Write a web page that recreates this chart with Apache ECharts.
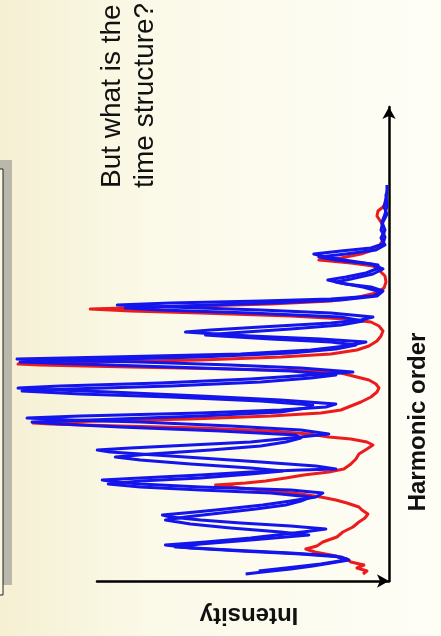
<!DOCTYPE html>
<html>
<head>
<meta charset="utf-8">
<script src="https://cdn.jsdelivr.net/npm/echarts@6/dist/echarts.min.js"></script>
<style>
html,body{margin:0;padding:0;width:441px;height:636px;overflow:hidden;}
#chart{width:441px;height:636px;}
</style>
</head>
<body>
<div id="chart"></div>
<script>
// Harmonic order (arbitrary units, along the vertical axis) and intensity (arbitrary units)
const redHarmonic = [0.7,1.0,1.3,1.6,1.9,2.2,2.6,2.9,3.2,3.5,3.9,4.4,4.9,5.4,5.9,6.3,6.7,7.1,7.4,7.8,8.1,8.4,8.7,8.9,9.1,9.3,9.6,9.8,10.0,10.3,10.6,10.9,11.2,11.7,12.2,12.7,13.2,13.6,13.9,14.2,14.4,14.7,15.0,15.3,15.5,15.7,15.8,16.0,16.2,16.5,16.8,17.1,17.5,17.9,18.4,18.9,19.3,19.7,20.1,20.5,20.8,21.0,21.2,21.4,21.6,21.7,21.9,22.1,22.4,22.7,23.1,23.5,24.0,24.5,25.0,25.5,25.9,26.2,26.5,26.8,27.0,27.2,27.4,27.7,28.0,28.4,28.8,29.3,29.9,30.5,31.1,31.5,31.8,32.1,32.3,32.7,33.1,33.6,34.3,35.1,35.9,36.5,37.0,37.4,37.9];
const redIntensity = [6.5,5.5,8,6.25,9.5,10.5,14.5,18.5,20.75,18,16.5,13,11.5,9,7.5,6,5.25,6.75,7.5,10.5,13.25,17,22,26.5,31.5,37,43.25,35.75,30.75,25.75,21.25,15,11.25,9.5,8.25,7.5,5.5,4,5.5,9.5,15,20,29.5,47,67,84.5,88.75,72,49.5,29.5,17,12,9.5,7,4.5,3,2.5,3.25,5,9,12,19.5,39.5,64.5,87,92.5,74.5,47,27,14.5,8,5,3,2,1.5,2.5,4.5,10.75,24.5,47,64.5,74.5,57,29.5,14.5,7.5,3.25,1.25,0.75,1,2.5,4,9.5,17.5,12,7,4,2.25,1.25,1.25,2,3,2.75,1.5,0.75];

const blueAHarmonic = [0.7,0.9,1.2,1.5,1.8,2.1,2.4,2.7,3.0,3.3,3.6,3.9,4.3,4.7,5.0,5.2,5.5,5.8,6.1,6.4,6.6,6.9,7.2,7.6,8.0,8.4,8.8,9.1,9.4,9.7,9.9,10.1,10.3,10.6,10.9,11.1,11.2,11.5,11.9,12.3,12.7,12.9,13.1,13.3,13.6,13.9,14.3,14.7,15.1,15.5,15.9,16.1,16.3,16.5,16.8,17.1,17.4,17.7,18.1,18.5,18.9,19.2,19.3,19.5,19.8,20.2,20.6,20.9,21.3,21.6,21.9,22.1,22.2,22.4,22.7,23.1,23.5,23.9,24.2,24.5,24.8,24.9,25.1,25.4,25.8,26.1,26.4,26.8,27.1,27.4,27.6,27.8,28.0,28.2,28.5,28.9,29.4,29.8,30.1,30.4,30.8,31.3,31.6,32.0,32.4,32.7,33.0,33.3,33.7,34.4,35.1,35.9,36.7,37.4,38.3,39.1,39.6];
const blueAIntensity = [35.75,31.5,24.5,19,14.5,10,12,22,37,49.5,55.75,45.75,34.5,25.75,19.5,15.75,24.5,37,47,54.5,56.5,48.25,40.75,31.5,24.5,18.25,16.5,24.5,47,62,68.25,71.5,62,47,34.5,22,13.25,18.25,32,47,62,69.5,72.75,64.5,49.5,34.5,24.5,15,22,39.5,62,79.5,90.25,77,47,27,15.75,13.25,27,47,69.5,89.5,92.5,82,57,34.5,19.5,9,22,39.5,62,87,92.75,69.5,37,19.5,10.75,5.75,17,34.5,47,50.75,44.5,32,14.5,7,4,14.5,32,54.5,67.75,54.5,32,14.5,4,2,6.5,12,15.25,10.75,5.75,2.5,2.75,9.5,15.75,18.75,12,4.5,1.5,1,2,1.5,0.5,1.25,0.75,0.5,0.5];

const blueBHarmonic = [1.0,1.3,1.7,2.1,2.5,2.8,3.1,3.4,3.7,4.1,4.4,4.6,4.9,5.3,5.7,6.1,6.4,6.8,7.2,7.6,8.0,8.4,8.8,9.1,9.4,9.7,10.0,10.3,10.7,11.0,11.3,11.7,12.1,12.4,12.7,13.1,13.5,13.9,14.3,14.6,15.0,15.4,15.7,15.9,16.1,16.5,16.9,17.3,17.6,18.0,18.4,18.7,19.0,19.2,19.5,19.9,20.3,20.6,21.0,21.3,21.6,21.9,22.1,22.4,22.8,23.2,23.6,23.9,24.2,24.5,24.6,24.8,25.2,25.6,26.0,26.4,26.8,27.1,27.3,27.5,27.8,28.1,28.5,29.0,29.4,29.7,29.9,30.2,30.7,31.2,31.7,32.1,32.4,32.7,33.1,33.6,34.3,35.1,35.9,36.7,37.5,38.7];
const blueBIntensity = [32.5,25.75,17,10.75,13.25,24.5,39.5,53.25,47,34.5,25.75,20,27,39.5,49.5,55.75,50.75,42,33.25,25.75,22,19.5,29.5,47,62,70,62,47,34.5,26.5,34.5,49.5,62,68.25,59.5,44.5,32,25.75,22,23.25,42,67,82,89,74.5,47,27,20.75,19,32,54.5,77,91.5,79.5,54.5,32,19.5,13.25,24.5,47,69.5,92,77,47,24.5,13.25,8.25,14.5,29.5,42,45.75,39.5,24.5,12,6.5,12,34.5,57,65.75,52,29.5,12,3,1.5,4.5,10.75,13.25,9.5,4,1.5,4.5,13.25,17.5,10.75,3.25,1,2,1,1.75,1,0.5,0.75];

const axisTitles = { x: 'Intensity', y: 'Harmonic order' };
const noteLines = ['But what is the', 'time structure?'];

function pairs(h, v) {
  const n = Math.min(h.length, v.length);
  const out = [];
  for (let i = 0; i < n; i++) out.push([v[i], h[i]]);
  return out;
}

const chart = echarts.init(document.getElementById('chart'), null, {renderer: 'canvas'});
const FONT = "'Liberation Sans', Arial, sans-serif";

function lineSeries(name, data, color) {
  return {
    name: name, type: 'line', data: data, showSymbol: false, symbol: 'none',
    xAxisIndex: 0, yAxisIndex: 0, smooth: false, animation: false,
    lineStyle: { color: color, width: 3, join: 'round' }
  };
}

const hidden = { axisTick: { show: false }, axisLabel: { show: false }, splitLine: { show: false } };

chart.setOption({
  animation: false,
  backgroundColor: {
    type: 'linear', x: 0, y: 0, x2: 1, y2: 0,
    colorStops: [
      { offset: 0, color: '#f5f0d3' },
      { offset: 0.35, color: '#fbf9e8' },
      { offset: 1, color: '#fefef7' }
    ]
  },
  grid: [
    { left: 0, right: 52, top: 107, bottom: 55 },
    { left: 97, right: 52, top: 107, bottom: 55 }
  ],
  xAxis: [
    Object.assign({ type: 'value', gridIndex: 0, inverse: true, min: 0, max: 97,
      axisLine: { show: false } }, hidden),
    Object.assign({ type: 'value', gridIndex: 1, inverse: true, min: 0, max: 73,
      axisLine: { show: true, onZero: false, symbol: ['none', 'arrow'], symbolSize: [10, 12],
        lineStyle: { color: '#000', width: 2.5 } } }, hidden)
  ],
  yAxis: [
    Object.assign({ type: 'value', gridIndex: 0, position: 'right', min: 0, max: 47.4,
      axisLine: { show: true, onZero: false, symbol: ['none', 'arrow'], symbolSize: [10, 12],
        lineStyle: { color: '#000', width: 2.5 } } }, hidden),
    Object.assign({ type: 'value', gridIndex: 1, position: 'right', min: 0, max: 47.4,
      axisLine: { show: false } }, hidden)
  ],
  series: [
    lineSeries('Red', pairs(redHarmonic, redIntensity), '#ec1c1c'),
    lineSeries('Blue A', pairs(blueAHarmonic, blueAIntensity), '#1414ec'),
    lineSeries('Blue B', pairs(blueBHarmonic, blueBIntensity), '#1414ec')
  ],
  graphic: [
    { type: 'rect', z: -1, shape: { x: -2, y: 160, width: 14, height: 425 },
      style: { fill: '#b9b8aa' } },
    { type: 'rect', z: 0, shape: { x: -10, y: 169, width: 13, height: 426 },
      style: { fill: '#fbf8e4', stroke: '#222', lineWidth: 1 } },
    { type: 'text', x: 112, y: 188, rotation: Math.PI / 2,
      style: { text: noteLines[0], x: 0, y: 0, align: 'left', verticalAlign: 'middle',
        font: 'normal 28px ' + FONT, fill: '#111' } },
    { type: 'text', x: 145, y: 188, rotation: Math.PI / 2,
      style: { text: noteLines[1], x: 0, y: 0, align: 'left', verticalAlign: 'middle',
        font: 'normal 28px ' + FONT, fill: '#111' } },
    { type: 'text', x: 418, y: 422, rotation: Math.PI / 2,
      style: { text: axisTitles.y, x: 0, y: 0, align: 'center', verticalAlign: 'middle',
        font: 'bold 24px ' + FONT, fill: '#111' } },
    { type: 'text', x: 249, y: 615, rotation: Math.PI,
      style: { text: axisTitles.x, x: 0, y: 0, align: 'center', verticalAlign: 'middle',
        font: 'bold 24px ' + FONT, fill: '#111' } }
  ]
});
</script>
</body>
</html>
